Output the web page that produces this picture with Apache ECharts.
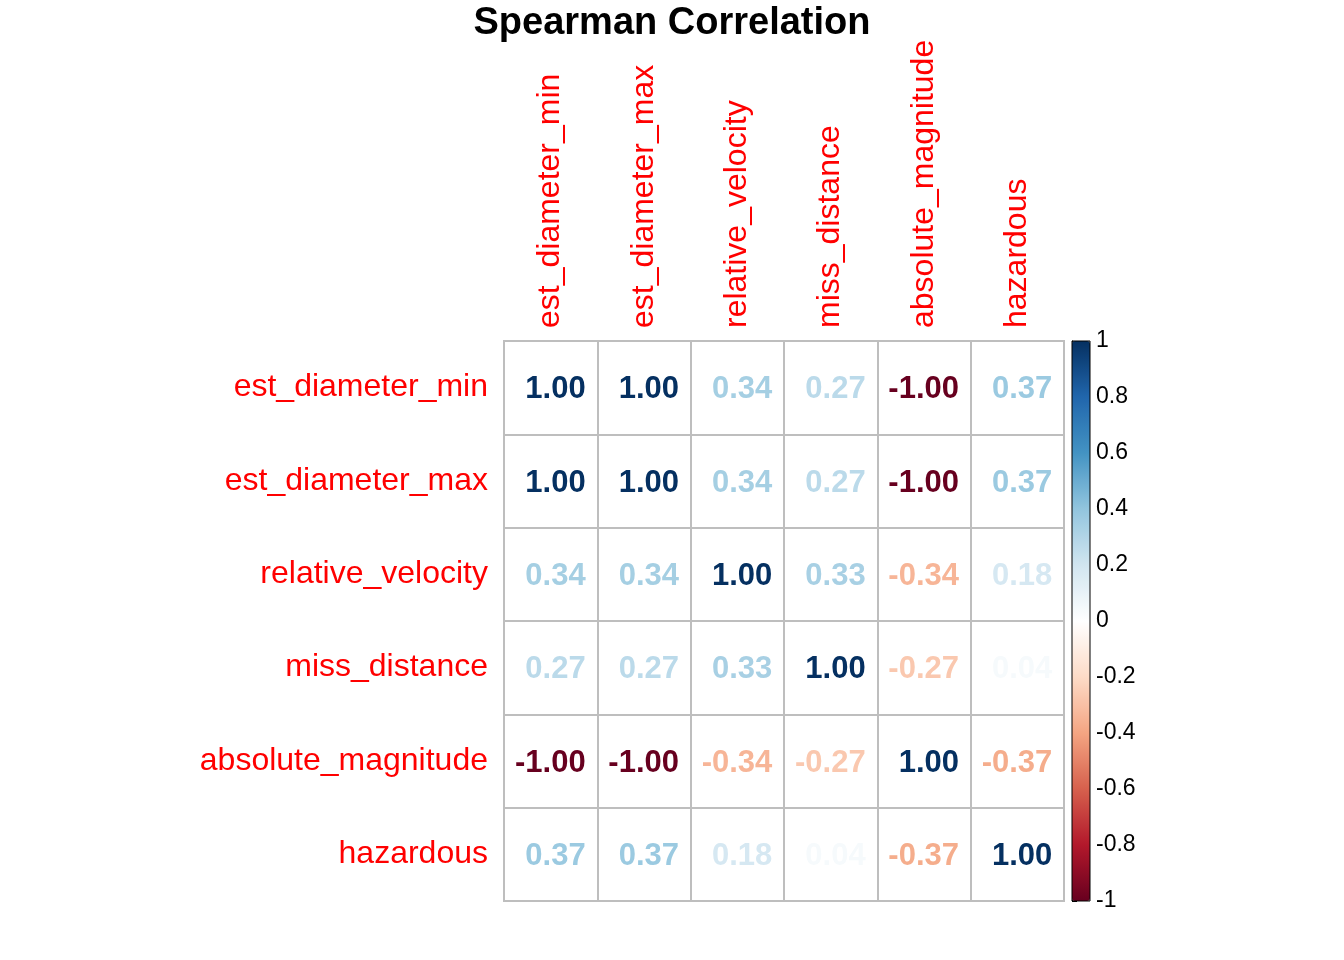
<!DOCTYPE html>
<html>
<head>
<meta charset="utf-8">
<script src="https://cdn.jsdelivr.net/npm/echarts@6/dist/echarts.min.js"></script>
<style>
  html, body { margin: 0; padding: 0; background: #fff; }
  #main { width: 1344px; height: 960px; }
</style>
</head>
<body>
<div id="main"></div>
<script>
// variables (rows and columns share the same order)
var vars = ['est_diameter_min', 'est_diameter_max', 'relative_velocity',
            'miss_distance', 'absolute_magnitude', 'hazardous'];

// spearman coefficients, one array per row
var rowMin  = [ 1.00,  1.00,  0.34,  0.27, -1.00,  0.37];
var rowMax  = [ 1.00,  1.00,  0.34,  0.27, -1.00,  0.37];
var rowVel  = [ 0.34,  0.34,  1.00,  0.33, -0.34,  0.18];
var rowMiss = [ 0.27,  0.27,  0.33,  1.00, -0.27,  0.04];
var rowMag  = [-1.00, -1.00, -0.34, -0.27,  1.00, -0.37];
var rowHaz  = [ 0.37,  0.37,  0.18,  0.04, -0.37,  1.00];
var corr = [rowMin, rowMax, rowVel, rowMiss, rowMag, rowHaz];

// RdBu palette, low to high
var palette = ['#67001F', '#B2182B', '#D6604D', '#F4A582', '#FDDBC7', '#FFFFFF',
               '#D1E5F0', '#92C5DE', '#4393C3', '#2166AC', '#053061'];

var cells = [];
corr.forEach(function (row, r) {
    row.forEach(function (v, c) {
        cells.push([c, r, v]);
    });
});

var font = 'Liberation Sans, Arial, Helvetica, sans-serif';
var chart = echarts.init(document.getElementById('main'));

chart.setOption({
    backgroundColor: '#fff',
    animation: false,
    title: {
        text: 'Spearman Correlation',
        left: 'center',
        top: 0,
        textStyle: { fontFamily: font, fontSize: 38, fontWeight: 'bold', color: '#000' }
    },
    grid: [
        { left: 504, top: 341, width: 560, height: 560, show: true,
          borderColor: '#BEBEBE', borderWidth: 2, backgroundColor: '#fff' },
        { left: 1072, top: 341, width: 18, height: 560, show: true, z: 10,
          borderColor: '#000', borderWidth: 1, backgroundColor: 'transparent' }
    ],
    xAxis: [
        {
            gridIndex: 0, type: 'category', data: vars, position: 'top',
            axisLine: { show: false }, axisTick: { show: false },
            splitLine: { show: true, interval: 0, lineStyle: { color: '#BEBEBE', width: 2 } },
            axisLabel: { rotate: -90, margin: 13, interval: 0, color: '#FF0000',
                         fontFamily: font, fontSize: 32 }
        },
        { gridIndex: 1, type: 'value', show: false, min: 0, max: 1 }
    ],
    yAxis: [
        {
            gridIndex: 0, type: 'category', data: vars, inverse: true,
            axisLine: { show: false }, axisTick: { show: false },
            splitLine: { show: true, interval: 0, lineStyle: { color: '#BEBEBE', width: 2 } },
            axisLabel: { margin: 16, interval: 0, color: '#FF0000',
                         fontFamily: font, fontSize: 32 }
        },
        {
            gridIndex: 1, type: 'value', position: 'right', min: -1, max: 1, interval: 0.2,
            axisLine: { show: true, lineStyle: { color: '#000', width: 1 } },
            axisTick: { show: true, inside: false, length: 5, lineStyle: { color: '#000' } },
            splitLine: { show: false },
            axisLabel: { margin: 6, padding: [6, 0, 0, 0], color: '#000',
                         fontFamily: font, fontSize: 23 }
        }
    ],
    visualMap: {
        type: 'continuous',
        min: -1, max: 1,
        seriesIndex: 0,
        calculable: false,
        orient: 'vertical',
        left: 1072, top: 341,
        itemWidth: 18, itemHeight: 560,
        padding: 0,
        text: null,
        showLabel: false,
        inRange: { color: palette }
    },
    series: [{
        type: 'scatter',
        xAxisIndex: 0, yAxisIndex: 0,
        symbolSize: 0,
        itemStyle: { opacity: 1 },
        data: cells,
        label: {
            show: true,
            position: 'inside',
            align: 'right',
            offset: [35, 2],
            color: 'inherit',
            opacity: 1,
            fontFamily: font,
            fontSize: 31,
            fontWeight: 'bold',
            formatter: function (p) { return p.value[2].toFixed(2); }
        }
    }]
});
</script>
</body>
</html>
